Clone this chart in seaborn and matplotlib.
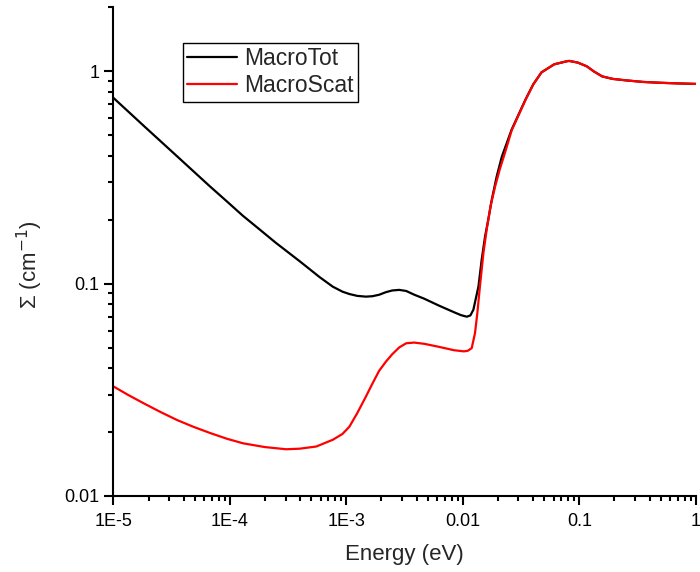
import pandas as pd
import matplotlib
matplotlib.use("Agg")
import matplotlib.pyplot as plt
import matplotlib.ticker as mticker
import seaborn as sns

# MacroTot (black)
tot_energy = [1e-5, 1.88e-5, 3.52e-5, 6.7e-5, 9.42e-5, 1.29e-4, 1.80e-4, 2.47e-4,
              3.96e-4, 4.83e-4, 5.87e-4, 7.64e-4, 9.25e-4, 1.06e-3, 1.24e-3, 1.47e-3,
              1.67e-3, 1.91e-3, 2.18e-3, 2.47e-3, 2.84e-3, 3.26e-3, 3.81e-3, 4.65e-3,
              6.24e-3, 8.38e-3, 9.62e-3, 0.0108, 0.0116, 0.0123, 0.0136, 0.0145,
              0.0155, 0.0165, 0.0177, 0.0195, 0.0216, 0.0262, 0.0345, 0.0401,
              0.0473, 0.0608, 0.079, 0.0822, 0.097, 0.116, 0.133, 0.157,
              0.193, 0.253, 0.352, 0.492, 0.697, 1.0]
tot_sigma = [0.75, 0.545, 0.398, 0.288, 0.244, 0.209, 0.180, 0.156,
             0.1277, 0.1171, 0.1075, 0.0968, 0.0917, 0.0894, 0.0876, 0.0869,
             0.0873, 0.0887, 0.0912, 0.0929, 0.0935, 0.0924, 0.0888, 0.0850,
             0.0788, 0.0734, 0.0711, 0.0699, 0.0709, 0.0754, 0.0971, 0.130,
             0.167, 0.200, 0.249, 0.320, 0.397, 0.532, 0.738, 0.868,
             0.99, 1.08, 1.118, 1.12, 1.10, 1.056, 1.0, 0.947,
             0.922, 0.907, 0.892, 0.884, 0.878, 0.873]

# MacroScat (red)
scat_energy = [1e-5, 1.34e-5, 1.80e-5, 2.52e-5, 3.51e-5, 4.83e-5, 6.75e-5, 9.42e-5,
               1.30e-4, 1.99e-4, 3.04e-4, 3.96e-4, 5.51e-4, 7.64e-4, 9.25e-4, 1.06e-3,
               1.24e-3, 1.47e-3, 1.67e-3, 1.91e-3, 2.18e-3, 2.47e-3, 2.84e-3, 3.26e-3,
               3.81e-3, 4.65e-3, 6.24e-3, 8.38e-3, 0.0102, 0.0110, 0.0119, 0.0127,
               0.0133, 0.0140, 0.0150, 0.0160, 0.0173, 0.0189, 0.0207, 0.0230,
               0.0262, 0.0345, 0.0401, 0.0473, 0.0608, 0.079, 0.0822, 0.097,
               0.116, 0.133, 0.157, 0.193, 0.253, 0.352, 0.492, 0.697, 1.0]
scat_sigma = [0.0328, 0.0299, 0.0274, 0.0249, 0.0228, 0.0212, 0.0198, 0.0186,
              0.0177, 0.0170, 0.0166, 0.0167, 0.0171, 0.0184, 0.0196, 0.0212,
              0.0246, 0.0294, 0.0338, 0.0389, 0.0429, 0.0465, 0.0501, 0.0524,
              0.0528, 0.0521, 0.0504, 0.0486, 0.0480, 0.0483, 0.0497, 0.0585,
              0.0727, 0.0971, 0.1396, 0.180, 0.233, 0.287, 0.345, 0.415,
              0.527, 0.735, 0.866, 0.99, 1.08, 1.118, 1.12, 1.10,
              1.056, 1.0, 0.947, 0.922, 0.907, 0.892, 0.884, 0.878, 0.873]

x_ticks = [1e-5, 1e-4, 1e-3, 1e-2, 1e-1, 1]
x_labels = ["1E-5", "1E-4", "1E-3", "0.01", "0.1", "1"]
y_ticks = [0.01, 0.1, 1]
y_labels = ["0.01", "0.1", "1"]

data = pd.concat([
    pd.DataFrame({"Energy": tot_energy, "Sigma": tot_sigma, "series": "MacroTot"}),
    pd.DataFrame({"Energy": scat_energy, "Sigma": scat_sigma, "series": "MacroScat"}),
], ignore_index=True)

sns.set_style("ticks")
plt.rcParams["font.family"] = ["Liberation Sans", "DejaVu Sans"]

fig = plt.figure(figsize=(7, 5.72), dpi=100)
ax = fig.add_axes([0.1621, 0.1329, 0.8320, 0.8540])

sns.lineplot(data=data, x="Energy", y="Sigma", hue="series",
             palette={"MacroTot": "black", "MacroScat": "red"},
             estimator=None, linewidth=1.6, ax=ax)
for ln in ax.get_lines():
    ln.set_solid_joinstyle("round")

ax.set_xscale("log")
ax.set_yscale("log")
ax.set_xlim(1e-5, 1)
ax.set_ylim(0.01, 2.0)

ax.xaxis.set_major_locator(mticker.FixedLocator(x_ticks))
ax.xaxis.set_major_formatter(mticker.FixedFormatter(x_labels))
ax.xaxis.set_minor_locator(mticker.LogLocator(base=10, subs=range(2, 10), numticks=20))
ax.xaxis.set_minor_formatter(mticker.NullFormatter())
ax.yaxis.set_major_locator(mticker.FixedLocator(y_ticks))
ax.yaxis.set_major_formatter(mticker.FixedFormatter(y_labels))
ax.yaxis.set_minor_locator(mticker.LogLocator(base=10, subs=range(2, 10), numticks=20))
ax.yaxis.set_minor_formatter(mticker.NullFormatter())

for side in ["top", "right"]:
    ax.spines[side].set_visible(False)
for side in ["left", "bottom"]:
    ax.spines[side].set_linewidth(1.5)
    ax.spines[side].set_color("black")

ax.tick_params(which="major", direction="out", length=6.5, width=1.5,
               labelsize=13, colors="black")
ax.tick_params(axis="x", which="major", pad=6)
ax.tick_params(which="minor", direction="out", length=3.5, width=1.5, colors="black")

ax.set_xlabel("Energy (eV)", fontsize=16, labelpad=10)
ax.set_ylabel("Σ (cm$^{-1}$)", fontsize=16)
ax.yaxis.set_label_coords(-0.117, 0.473)

leg = ax.legend(loc="upper left", bbox_to_anchor=(0.119, 0.927), borderaxespad=0,
                fontsize=16.5, frameon=True, fancybox=False, framealpha=1,
                edgecolor="black", handlelength=2.2, handletextpad=0.3,
                borderpad=0.18, labelspacing=0.18)
leg.get_frame().set_linewidth(1.0)

fig.savefig("out.png", dpi=100)
